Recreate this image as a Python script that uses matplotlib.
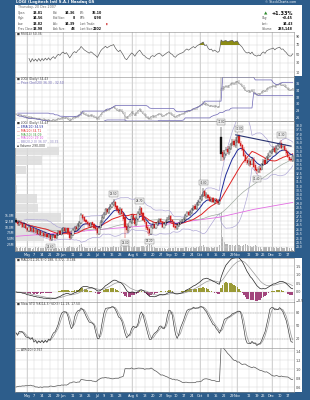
import numpy as np
import pandas as pd
import matplotlib
matplotlib.use("Agg")
import matplotlib.pyplot as plt
from matplotlib.patches import Rectangle

# LOGI daily bars, 20 Apr - 20 Dec 2007
holidays = ["2007-05-28", "2007-07-04", "2007-09-03", "2007-11-22"]
days = pd.bdate_range("2007-04-20", "2007-12-20")
days = days[~days.isin(pd.to_datetime(holidays))]

close = [26.9,
         26.6, 26.9, 26.7, 26.3, 26.6, 26.2, 25.9, 26.3, 25.8, 26.1,
         25.7, 25.9, 25.5, 25.8, 25.3, 25.6, 25.2, 25.5, 25.1, 25.4,
         24.9, 25.2, 25.4, 25.0, 25.4, 25.7, 25.5, 25.9, 26.1,
         25.8, 26.0, 25.6, 25.0, 25.4, 25.9, 26.2, 26.0, 26.5, 26.8,
         27.6, 27.3, 27.0, 26.8, 26.6, 26.4, 26.7, 26.5, 26.2, 26.0,
         25.6, 26.2, 26.9, 27.4,
         27.8, 28.3, 28.0, 28.4, 28.7, 28.9, 29.1, 28.6, 28.2, 27.9,
         28.3, 27.8, 27.2, 26.3, 25.9, 26.4, 26.9, 27.5, 27.2, 26.6,
         27.3, 27.9, 28.4, 27.8, 27.1, 26.8, 26.2, 25.9, 25.6, 26.3,
         26.5, 26.2, 26.6, 26.9, 27.1, 26.8, 26.3, 26.6, 26.9, 27.2,
         27.4, 27.0, 26.8, 26.3,
         26.1, 26.5, 26.7, 26.9, 27.0, 27.2, 27.6, 27.9, 27.7, 28.0,
         28.3, 28.6, 28.4, 28.9, 29.2, 29.5, 29.9, 30.3, 29.8, 30.1,
         29.6, 29.3, 29.5, 29.1, 29.4, 29.2, 29.0, 29.3, 34.7, 34.3,
         34.8, 35.2, 34.9, 35.4, 35.8, 36.1, 35.7, 36.3, 36.6, 36.0,
         35.6, 35.2, 34.5, 33.9, 33.6, 33.9, 33.4, 34.0, 33.2, 32.9,
         32.7, 33.0, 32.8, 33.5,
         33.9, 33.5, 34.3, 34.6, 34.9, 35.0, 35.3, 34.9, 35.4, 35.6,
         35.8, 35.4, 35.5, 35.1, 34.8, 34.3, 34.0, 33.98, 34.43]

opens = [27.1,
         26.9, 26.5, 26.9, 26.7, 26.3, 26.6, 26.2, 25.8, 26.3, 25.8,
         26.1, 25.7, 25.9, 25.5, 25.8, 25.3, 25.6, 25.2, 25.5, 25.1,
         25.3, 24.8, 25.2, 25.4, 25.0, 25.4, 25.8, 25.4, 25.9,
         26.2, 25.7, 26.1, 25.7, 25.0, 25.3, 25.8, 26.3, 26.0, 26.4,
         26.7, 27.7, 27.4, 27.1, 26.9, 26.7, 26.3, 26.8, 26.6, 26.3,
         26.2, 25.5, 26.2, 26.8,
         27.3, 27.7, 28.4, 27.9, 28.3, 28.6, 28.8, 29.2, 28.7, 28.3,
         27.8, 28.4, 27.9, 27.4, 26.4, 25.8, 26.3, 26.8, 27.6, 27.3,
         26.5, 27.2, 27.8, 28.5, 27.9, 27.2, 26.9, 26.3, 26.0, 25.5,
         26.2, 26.6, 26.1, 26.5, 26.8, 27.2, 26.9, 26.2, 26.5, 26.8,
         27.3, 27.5, 27.1, 26.9,
         26.4, 26.0, 26.4, 26.6, 26.8, 26.9, 27.1, 27.5, 28.0, 27.6,
         27.9, 28.2, 28.7, 28.3, 28.8, 29.1, 29.4, 29.8, 30.4, 29.7,
         30.0, 29.7, 29.2, 29.6, 29.0, 29.5, 29.3, 28.9, 36.6, 34.9,
         34.2, 34.7, 35.3, 34.8, 35.3, 35.9, 36.2, 35.6, 36.2, 36.8,
         36.0, 35.7, 35.3, 34.6, 34.0, 33.5, 33.9, 33.5, 34.1, 33.4,
         33.0, 32.6, 33.1, 32.8,
         33.4, 34.0, 33.6, 34.2, 34.5, 34.8, 35.1, 35.4, 34.8, 35.3,
         35.5, 36.0, 35.2, 35.6, 35.2, 34.9, 34.4, 34.1, 33.91]

highs = [27.3,
         27.1, 27.1, 27.1, 26.8, 26.8, 26.7, 26.3, 26.4, 26.4, 26.2,
         26.2, 26.0, 26.0, 25.9, 25.9, 25.7, 25.8, 25.7, 25.6, 25.6,
         25.4, 25.3, 25.5, 25.5, 25.6, 25.9, 25.9, 26.1, 26.3,
         26.3, 26.2, 26.2, 25.8, 25.6, 26.1, 26.4, 26.4, 26.7, 27.0,
         27.9, 27.8, 27.5, 27.2, 27.0, 26.8, 26.9, 26.9, 26.7, 26.4,
         26.3, 26.4, 27.1, 27.6,
         28.0, 28.5, 28.5, 28.6, 28.9, 29.2, 29.5, 29.3, 28.8, 28.5,
         28.6, 28.5, 28.0, 27.5, 26.6, 26.6, 27.1, 27.8, 27.8, 27.4,
         27.5, 28.1, 28.7, 28.6, 28.0, 27.4, 27.0, 26.5, 26.2, 26.5,
         26.8, 26.7, 26.8, 27.1, 27.3, 27.3, 27.0, 26.8, 27.1, 27.4,
         27.7, 27.6, 27.2, 27.0,
         26.5, 26.7, 26.9, 27.1, 27.2, 27.4, 27.8, 28.1, 28.1, 28.2,
         28.5, 28.8, 28.9, 29.1, 29.4, 29.8, 30.1, 30.8, 30.5, 30.3,
         30.1, 29.8, 29.7, 29.7, 29.6, 29.6, 29.5, 29.5, 37.8, 35.2,
         35.1, 35.5, 35.6, 35.6, 36.0, 36.4, 36.4, 36.6, 36.8, 37.0,
         36.2, 35.9, 35.5, 34.8, 34.2, 34.2, 34.1, 34.3, 34.3, 33.6,
         33.2, 33.3, 33.3, 33.7,
         34.1, 34.2, 34.5, 34.8, 35.1, 35.3, 35.6, 35.6, 35.7, 35.9,
         36.1, 36.3, 35.8, 35.8, 35.4, 35.0, 34.5, 34.3, 34.56]

lows = [26.7,
        26.4, 26.4, 26.5, 26.1, 26.2, 26.0, 25.7, 25.7, 25.7, 25.7,
        25.6, 25.6, 25.4, 25.4, 25.2, 25.2, 25.1, 25.1, 25.0, 25.0,
        24.6, 24.7, 25.0, 24.8, 24.9, 25.2, 25.3, 25.3, 25.7,
        25.6, 25.6, 25.4, 24.8, 24.9, 25.2, 25.7, 25.8, 25.9, 26.3,
        26.6, 27.1, 26.8, 26.5, 26.3, 26.1, 26.1, 26.3, 26.0, 25.8,
        25.3, 25.4, 26.1, 26.7,
        27.2, 27.6, 27.8, 27.8, 28.2, 28.5, 28.7, 28.4, 28.0, 27.7,
        27.6, 27.6, 27.0, 25.0, 25.6, 25.6, 26.1, 26.6, 27.0, 26.4,
        26.4, 27.0, 27.7, 27.6, 27.0, 26.6, 25.9, 25.5, 25.2, 25.3,
        26.0, 26.0, 26.0, 26.4, 26.7, 26.7, 26.1, 26.1, 26.4, 26.7,
        27.1, 26.9, 26.6, 26.2,
        25.9, 25.9, 26.3, 26.5, 26.7, 26.8, 27.0, 27.4, 27.5, 27.5,
        27.8, 28.1, 28.2, 28.2, 28.7, 29.0, 29.3, 29.7, 29.6, 29.5,
        29.4, 29.1, 29.1, 29.0, 28.9, 29.0, 28.8, 28.8, 33.9, 33.9,
        34.0, 34.5, 34.7, 34.6, 35.1, 35.6, 35.5, 35.4, 36.0, 35.8,
        35.4, 35.0, 34.3, 33.7, 33.4, 33.3, 33.2, 33.4, 33.1, 32.7,
        32.4, 32.5, 32.5, 32.8,
        33.3, 33.4, 33.5, 34.1, 34.4, 34.7, 34.9, 34.8, 34.7, 35.2,
        35.4, 35.3, 35.1, 35.0, 34.6, 34.2, 33.9, 33.8, 33.82]

# volume in millions of shares
volume = [1.6,
          1.4, 1.2, 1.5, 1.3, 1.1, 1.5, 1.7, 1.2, 1.4, 1.0,
          1.3, 1.6, 1.1, 1.9, 1.4, 1.2, 1.3, 1.8, 1.5, 1.2,
          2.1, 1.6, 1.3, 1.4, 1.1, 1.2, 1.0, 1.3, 1.5,
          1.4, 1.2, 1.6, 2.3, 1.7, 1.5, 1.3, 1.2, 1.6, 2.4,
          3.1, 1.9, 1.5, 1.3, 1.2, 1.4, 1.1, 1.3, 1.2, 1.5,
          1.8, 0.9, 1.4, 1.6,
          1.7, 1.9, 1.5, 1.4, 1.6, 1.8, 2.0, 1.7, 1.6, 1.9,
          2.2, 1.8, 2.4, 3.6, 2.8, 2.3, 2.0, 1.9, 1.7, 2.1,
          1.8, 1.6, 1.9, 2.0, 2.2, 1.9, 2.3, 2.6, 3.0, 2.4,
          1.7, 1.5, 1.4, 1.3, 1.2, 1.2, 1.4, 1.1, 1.0, 0.9,
          1.3, 1.2, 1.1, 1.4,
          1.5, 1.3, 1.2, 1.4, 1.1, 1.3, 1.5, 1.6, 1.4, 1.2,
          1.5, 1.7, 1.4, 1.6, 1.8, 2.0, 2.2, 2.4, 1.9, 1.7,
          1.5, 1.4, 1.6, 1.3, 1.5, 1.6, 1.8, 2.5, 16.8, 6.2,
          3.9, 3.2, 2.8, 2.4, 2.6, 2.5, 2.2, 2.7, 2.9, 2.4,
          2.3, 2.1, 2.6, 2.8, 2.5, 2.2, 2.0, 1.9, 2.3, 2.4,
          2.0, 1.8, 1.6, 0.9,
          1.7, 1.5, 1.8, 1.6, 1.9, 1.7, 1.5, 1.4, 1.6, 1.3,
          1.5, 1.7, 1.4, 1.3, 1.6, 1.5, 1.4, 1.3, 0.29]

# 200-day MA needs history before the window, so it is read straight off the chart
ma200_dates = ["2007-04-20", "2007-06-01", "2007-07-16", "2007-08-31",
               "2007-10-17", "2007-11-15", "2007-12-20"]
ma200_vals = [25.2, 25.6, 26.1, 26.6, 27.4, 28.3, 29.1]

# date axis
tick_dates = ["2007-05-01", "2007-05-07", "2007-05-14", "2007-05-21", "2007-05-29",
              "2007-06-01", "2007-06-11", "2007-06-18", "2007-06-25", "2007-07-02",
              "2007-07-09", "2007-07-16", "2007-07-23", "2007-08-01", "2007-08-06",
              "2007-08-13", "2007-08-20", "2007-08-27", "2007-09-04", "2007-09-10",
              "2007-09-17", "2007-09-24", "2007-10-01", "2007-10-08", "2007-10-15",
              "2007-10-22", "2007-10-29", "2007-11-01", "2007-11-12", "2007-11-19",
              "2007-11-26", "2007-12-03", "2007-12-10", "2007-12-17"]
tick_labels = ["May", "7", "14", "21", "29", "Jun", "11", "18", "25", "Jul",
               "9", "16", "23", "Aug", "6", "13", "20", "27", "Sep", "10",
               "17", "24", "Oct", "8", "15", "22", "29", "Nov", "12", "19",
               "26", "Dec", "10", "17"]
month_dates = ["2007-05-01", "2007-06-01", "2007-07-02", "2007-08-01",
               "2007-09-04", "2007-10-01", "2007-11-01", "2007-12-03"]

# price labels and the hand drawn trend line
peak_dates = ["2007-07-17", "2007-08-08", "2007-10-03", "2007-10-18", "2007-11-02", "2007-12-11"]
trough_dates = ["2007-05-21", "2007-07-26", "2007-08-16", "2007-11-19"]
trend_dates = ["2007-10-31", "2007-12-19"]
trend_vals = [36.9, 35.6]

# ---------------------------------------------------------------
W, H = 310, 400
BLUE = "#2d5d8b"
GRID = "#d6d6d6"
TXT = "#3a3a3a"

c = pd.Series(close)
o = pd.Series(opens)
h = pd.Series(highs)
l = pd.Series(lows)
v = pd.Series(volume)
x = np.arange(len(c))


def idx(dates):
    return days.get_indexer(pd.to_datetime(dates))


ticks = idx(tick_dates)
months = idx(month_dates)

# indicators
ema10 = c.ewm(span=10, adjust=False).mean()
ma20 = c.rolling(20, min_periods=1).mean()
ma50 = c.rolling(50, min_periods=1).mean()
sd20 = c.rolling(20, min_periods=6).std(ddof=0)
bb_up = ma20 + 2 * sd20
bb_dn = ma20 - 2 * sd20

chan_up = h.rolling(20, min_periods=1).max().shift(1)
chan_dn = l.rolling(20, min_periods=1).min().shift(1)

d = c.diff()
gain = d.clip(lower=0).ewm(alpha=1 / 14, adjust=True, min_periods=8).mean()
loss = (-d.clip(upper=0)).ewm(alpha=1 / 14, adjust=True, min_periods=8).mean()
rsi = 100 - 100 / (1 + gain / loss)

macd = c.ewm(span=12, adjust=False).mean() - c.ewm(span=26, adjust=False).mean()
signal = macd.ewm(span=9, adjust=False).mean()
hist = macd - signal

ll = l.rolling(14, min_periods=1).min()
hh = h.rolling(14, min_periods=1).max()
fast_k = 100 * (c - ll) / (hh - ll)
slow_k = fast_k.rolling(3, min_periods=1).mean()
slow_d = slow_k.rolling(3, min_periods=1).mean()

pc = c.shift(1)
tr = pd.concat([h - l, (h - pc).abs(), (l - pc).abs()], axis=1).max(axis=1)
atr = tr.ewm(alpha=1 / 10, adjust=False).mean()

# ---------------------------------------------------------------
fig = plt.figure(figsize=(W / 100, H / 100), dpi=100, facecolor=BLUE)


def rect(x0, y0, x1, y1, color, z=-5):
    fig.add_artist(Rectangle((x0 / W, 1 - y1 / H), (x1 - x0) / W, (y1 - y0) / H,
                             transform=fig.transFigure, facecolor=color,
                             edgecolor="none", zorder=z))


def ftext(xp, yp, s, **kw):
    kw.setdefault("va", "center")
    fig.text(xp / W, 1 - yp / H, s, **kw)


def panel(y0, y1, x0=15, x1=294, face="white"):
    ax = fig.add_axes([x0 / W, 1 - y1 / H, (x1 - x0) / W, (y1 - y0) / H], facecolor=face)
    ax.set_xlim(-0.6, len(c) - 0.2)
    ax.set_xticks(ticks)
    ax.tick_params(axis="x", length=0, labelbottom=False)
    ax.yaxis.tick_right()
    ax.tick_params(axis="y", length=0, labelsize=2.4, pad=1.3, colors=TXT)
    ax.grid(color=GRID, lw=0.35)
    ax.set_axisbelow(True)
    for m in months:
        ax.axvline(m, color="#b0b0b0", lw=0.4, zorder=0.5)
    for s in ax.spines.values():
        s.set_color("#8a8a8a")
        s.set_linewidth(0.4)
    return ax


def legend(ax, lines, y_px0=2.2, step=3.9):
    hpx = ax.bbox.height
    for k, (s, col) in enumerate(lines):
        ax.text(0.006, 1 - (y_px0 + k * step) / hpx, s, transform=ax.transAxes,
                fontsize=2.2, color=col, va="center", ha="left", zorder=6)


# white sheet, blue label columns and date strips
rect(15, 4.5, 302, 392, "white")
rect(294, 76.5, 302, 251, BLUE, z=-4)
rect(0, 251, W, 258, BLUE, z=-4)

# header and quote box
ftext(15.5, 2.4, "LOGI (Logitech Intl S.A.) Nasdaq GS", color="white", fontsize=2.8, weight="bold")
ftext(296, 2.4, "© StockCharts.com", color="white", fontsize=2.3, ha="right")
ftext(18, 7.4, "Thursday, 20 Dec 2007", color="#666666", fontsize=2.3)
rows = [12.7, 18.3, 24.0, 29.0]
cols = [(18, 43, ["Open:", "High:", "Low:", "Prev Close:"], ["33.81", "34.56", "33.82", "33.98"]),
        (53, 75, ["Bid:", "Bid Size:", "Ask:", "Ask Size:"], ["34.36", "8", "34.39", "48"]),
        (80, 102, ["P/E:", "EPS:", "Last Trade:", "Last Size:"], ["35.10", "0.98", "", "2202"])]
for xl, xv, names, vals in cols:
    for yy, nm, vl in zip(rows, names, vals):
        ftext(xl, yy, nm, color="#555555", fontsize=2.0)
        ftext(xv, yy, vl, color="#111111", fontsize=2.3, weight="bold", ha="right")
ftext(106, 24.0, "▮", color="#cc2222", fontsize=2.2)
ftext(266, 13.5, "▲", color="#2e8b2e", fontsize=3.2, ha="center")
ftext(293, 13.5, "+1.33%", color="#111111", fontsize=3.6, weight="bold", ha="right")
for yy, nm, vl in zip(rows[1:], ["Chg:", "Last:", "Volume:"], ["+0.45", "34.43", "285,148"]):
    ftext(262, yy, nm, color="#555555", fontsize=2.0)
    ftext(293, yy, vl, color="#111111", fontsize=2.3, weight="bold", ha="right")

# --- RSI ---
ax1 = panel(31.5, 76.5)
ax1.set_ylim(0, 100)
ax1.set_yticks([10, 30, 50, 70, 90])
ax1.plot(x, rsi, color="#555555", lw=0.45)
ax1.fill_between(x, rsi, 70, where=rsi > 70, interpolate=True, color="#8c8c14", lw=0)
ax1.fill_between(x, rsi, 30, where=rsi < 30, interpolate=True, color="#8c8c14", lw=0)
legend(ax1, [(f"■ RSI(14) {rsi.iloc[-1]:.2f}", TXT)])

# --- price channel panel ---
ax2 = panel(76.5, 121)
ax2.set_ylim(25.0, 38.0)
ax2.set_yticks([26, 28, 30, 32, 34, 36])
ax2.tick_params(axis="y", colors="white")
ax2.vlines(x, l, h, color="#6a6a6a", lw=0.35)
ax2.plot(x, c, color="#8a8a8a", lw=0.3)
ax2.plot(x, chan_up, color="#6b64b4", lw=0.5)
ax2.plot(x, chan_dn, color="#6b64b4", lw=0.5)
legend(ax2, [(f"■ LOGI (Daily) {close[-1]:.2f}", TXT),
             (f"— Price Chnl(20) {chan_up.iloc[-1]:.2f} - {chan_dn.iloc[-1]:.2f}", "#6b64b4")])

# --- main price panel: volume underneath, candles on top ---
axv = panel(121, 251)
axv.set_ylim(0, 55.7)
axv.set_yticks([])
axv.grid(False)
axv.bar(x, v, width=0.7, color="#b4b4b4", lw=0, zorder=1)

ax3 = panel(121, 251, face="none")
ax3.set_ylim(23.5, 38.5)
ax3.set_yticks(np.arange(24.0, 38.01, 0.5))
ax3.set_yticklabels([f"{t:.1f}" for t in np.arange(24.0, 38.01, 0.5)])
ax3.tick_params(axis="y", colors="white", labelsize=2.2)
ax3.set_xticklabels(tick_labels)
ax3.tick_params(axis="x", labelbottom=True, labelsize=2.5, labelcolor="white", pad=1.6)

# volume labels on the left blue strip
for vv in [2.5, 5.0, 7.5, 10.0, 12.5, 15.0]:
    yp = 251 - vv / 55.7 * 130
    ftext(14.3, yp, f"{vv:.1f}M", color="white", fontsize=2.2, ha="right")

# volume by price bars
edges = np.linspace(l.min(), h.max(), 13)
vbp = v.groupby(pd.cut(c, edges, include_lowest=True), observed=False).sum().values
vbp_len = vbp / vbp.max() * 0.25 * len(c)
ax3.barh((edges[:-1] + edges[1:]) / 2, vbp_len, height=(edges[1] - edges[0]) * 0.92,
         left=-0.6, color="#dcdcdc", alpha=0.85, lw=0, zorder=1)

ax3.plot(x, bb_up, color="#aaa2d4", lw=0.45, zorder=2)
ax3.plot(x, bb_dn, color="#aaa2d4", lw=0.45, zorder=2)
ax3.plot(idx(ma200_dates), ma200_vals, color="#e36ee3", lw=0.6, zorder=2)
ax3.plot(x, ma50, color="#a3ada3", lw=0.5, zorder=2)
ax3.plot(x, ma20, color="#e02424", lw=0.7, zorder=3)
ax3.plot(x, ema10, color="#1f2a99", lw=0.7, zorder=3)

# candles: red when close below previous close, hollow when close above open
prev = c.shift(1).fillna(c.iloc[0])
for i in x:
    col = "#d42020" if c[i] < prev[i] else "#111111"
    ax3.vlines(i, l[i], h[i], color=col, lw=0.35, zorder=4)
    lo, hi = min(o[i], c[i]), max(o[i], c[i])
    face = "white" if c[i] >= o[i] else col
    ax3.bar(i, max(hi - lo, 0.06), bottom=lo, width=0.75, facecolor=face,
            edgecolor=col, lw=0.25, zorder=5)

ax3.plot(idx(trend_dates), trend_vals, color="#26306e", lw=0.8, zorder=6)

box = dict(boxstyle="square,pad=0.25", facecolor="#efefef", edgecolor="#7a7a7a", lw=0.3)
for i in idx(peak_dates):
    ax3.annotate(f"{h[i]:.2f}", (i, h[i]), xytext=(0, 2.2), textcoords="offset points",
                 ha="center", va="bottom", fontsize=1.9, color=TXT, bbox=box, zorder=7)
for i in idx(trough_dates):
    ax3.annotate(f"{l[i]:.2f}", (i, l[i]), xytext=(0, -2.2), textcoords="offset points",
                 ha="center", va="top", fontsize=1.9, color=TXT, bbox=box, zorder=7)

# legend block with white backing
ax3.add_patch(Rectangle((0, 0.79), 0.115, 0.21, transform=ax3.transAxes,
                        facecolor="white", edgecolor="none", zorder=5.5))
legend(ax3, [(f"■ LOGI (Daily) {close[-1]:.2f}", TXT),
             (f"— EMA(10) {ema10.iloc[-1]:.2f}", "#1f2a99"),
             (f"— MA(20) {ma20.iloc[-1]:.2f}", "#e02424"),
             (f"— MA(50) {ma50.iloc[-1]:.2f}", "#3c9a3c"),
             (f"— MA(200) {ma200_vals[-1]:.2f}", "#d94fd9"),
             (f"— BB(20,2.0) {bb_up.iloc[-1]:.2f} - {bb_dn.iloc[-1]:.2f}", "#8a82c0"),
             (f"▪ Volume {volume[-1] * 1e6:,.0f}", TXT)], step=3.8)

# --- MACD ---
ax4 = panel(258, 302)
ax4.set_ylim(-0.59, 2.0)
ax4.set_yticks([-0.5, 0.0, 0.5, 1.0, 1.5])
ax4.bar(x, hist.where(hist > 0, 0), width=0.85, color="#9a9a36", lw=0, zorder=2)
ax4.bar(x, hist.where(hist < 0, 0), width=0.85, color="#a2457c", lw=0, zorder=2)
ax4.plot(x, signal, color="#9a9a9a", lw=0.5, zorder=3)
ax4.plot(x, macd, color="#222222", lw=0.5, zorder=3)
legend(ax4, [(f"■ MACD(12,26,9) {macd.iloc[-1]:.3f}, {signal.iloc[-1]:.3f}, {hist.iloc[-1]:.3f}", TXT)])

# --- slow stochastic ---
ax5 = panel(302, 348)
ax5.set_ylim(-1, 104)
ax5.set_yticks([20, 50, 80])
for lv in [20, 80]:
    ax5.axhline(lv, color="#9a9a9a", lw=0.35, ls=(0, (2, 1.5)))
ax5.plot(x, slow_d, color="#9a9a9a", lw=0.55)
ax5.plot(x, slow_k, color="#333333", lw=0.45)
legend(ax5, [(f"■ Slow STO %K(14,3) %D(3) {slow_k.iloc[-1]:.2f}, {slow_d.iloc[-1]:.2f}", TXT)])

# --- ATR ---
ax6 = panel(348, 392)
ax6.set_ylim(0.49, 1.467)
ax6.set_yticks([0.6, 0.8, 1.0, 1.2, 1.4])
ax6.plot(x, atr, color="#555555", lw=0.5)
ax6.set_xticklabels(tick_labels)
ax6.tick_params(axis="x", labelbottom=True, labelsize=2.5, labelcolor="white", pad=1.6)
legend(ax6, [(f"— ATR(10) {atr.iloc[-1]:.3f}", TXT)])

fig.savefig("out.png", dpi=100, facecolor=BLUE)
